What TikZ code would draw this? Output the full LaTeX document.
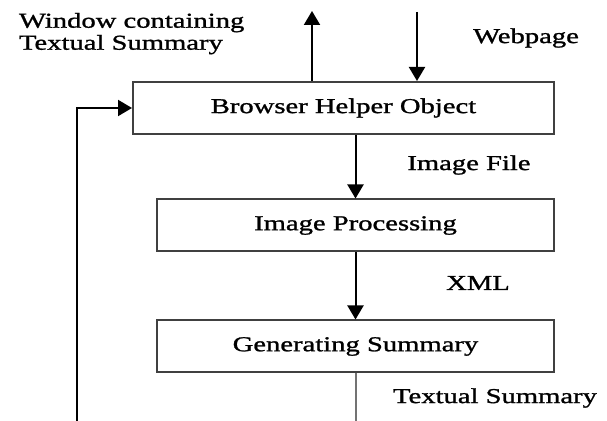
\documentclass[tikz,border=0pt]{standalone}
\usepackage{fontspec}
\setmainfont{Liberation Serif}[FakeStretch=1.35,FakeBold=1.2]
\usetikzlibrary{arrows.meta}

\begin{document}
\begin{tikzpicture}
  [x=0.5pt,y=-0.5pt,line width=1pt,
   every node/.style={font=\fontsize{10.6}{11}\selectfont},
   box/.style={draw=black!75,rectangle,inner sep=0pt,minimum height=26pt},
   lbl/.style={inner sep=0pt},
   arr/.style={-{Triangle[length=7pt,width=8pt]}}]
  \useasboundingbox [fill=white] (0,0) rectangle (607,421);

  \node [box,minimum width=210.5pt] (bho) at (343.5,108) {Browser Helper Object};
  \node [box,minimum width=198.5pt] (ip) at (355.5,225.5) {Image Processing};
  \node [box,minimum width=198.5pt] (gs) at (355.5,346.5) {Generating Summary};

  \node [lbl,anchor=north west,align=left] (win) at (18,12) {Window containing\\Textual Summary};
  \node [lbl] (web) at (526,38) {Webpage};
  \node [lbl] (imgfile) at (469,165) {Image File};
  \node [lbl] (xml) at (478,283) {XML};
  \node [lbl] (txtsum) at (495,398) {Textual Summary};

  \coordinate (up) at (312,11);
  \coordinate (down) at (417,12);
  \coordinate (fb) at (77,421);
  \coordinate (gsout) at (355.5,421);

  \draw [arr] (bho.north -| up) -- (up);
  \draw [arr] (down) -- (down |- bho.north);
  \draw [arr] (ip.north |- bho.south) -- (ip);
  \draw [arr] (ip) -- (gs);
  \draw [arr] (fb) |- (bho);
  \draw [black!55] (gs) -- (gsout);

\end{tikzpicture}
\end{document}
